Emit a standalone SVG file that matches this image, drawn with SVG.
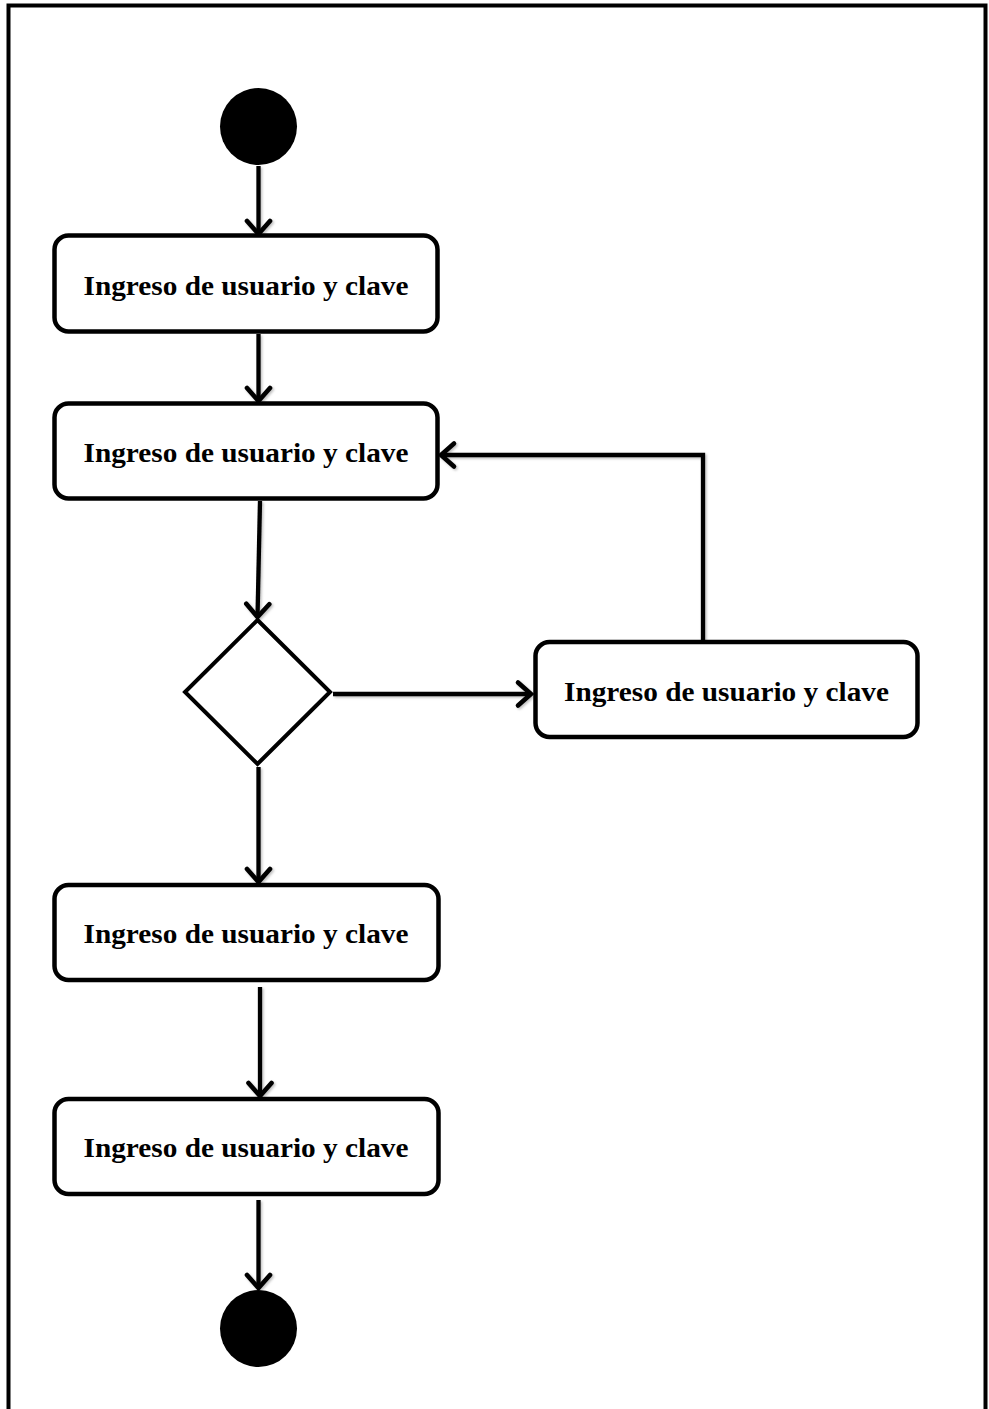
<svg xmlns="http://www.w3.org/2000/svg" width="989" height="1409" viewBox="0 0 989 1409">
  <style>
    .frame { fill: none; stroke: #000; stroke-width: 4; }
    .box { fill: #fff; stroke: #000; stroke-width: 4.5; }
    .dot { fill: #000; }
    .decision { fill: #fff; stroke: #000; stroke-width: 4; stroke-linejoin: miter; }
    .label { font-family: "Liberation Serif", "Times New Roman", serif; font-weight: bold; font-size: 28px; fill: #000; text-anchor: middle; }
    .flow { fill: none; stroke: #000; stroke-width: 4.3; marker-end: url(#open-arrow); }
  </style>
  <defs>
    <marker id="open-arrow" markerUnits="userSpaceOnUse" markerWidth="32" markerHeight="32" viewBox="-17 -16 22 32" refX="0" refY="0" orient="auto">
      <path d="M -13 -11.5 L 0 0 L -13 11.5" fill="none" stroke="#000" stroke-width="4.6" stroke-linecap="round" stroke-linejoin="miter"/>
    </marker>
    <filter id="soft" filterUnits="userSpaceOnUse" x="0" y="0" width="989" height="1409">
      <feDropShadow dx="1.5" dy="1.5" stdDeviation="1.2" flood-color="#000" flood-opacity="0.25"/>
    </filter>
  </defs>

  <rect class="frame" x="8.5" y="5.5" width="977" height="1412"/>

  <g id="connectors" filter="url(#soft)">
    <path class="flow" d="M 258.5 166 L 258.5 234"/>
    <path class="flow" d="M 258.5 334 L 258.5 401"/>
    <path class="flow" d="M 260 501 L 257.5 617"/>
    <path class="flow" d="M 333 694 L 531 694"/>
    <path class="flow" d="M 703 645 L 703 455 L 441 455"/>
    <path class="flow" d="M 258.5 767 L 258.5 882"/>
    <path class="flow" d="M 260 987 L 260 1096"/>
    <path class="flow" d="M 258.5 1200 L 258.5 1288"/>
  </g>

  <g id="start">
    <circle class="dot" cx="258.5" cy="126.5" r="38.5"/>
  </g>

  <g id="activity-1">
    <rect class="box" x="54.5" y="235.5" width="383" height="96" rx="14"/>
    <text class="label" x="246" y="295" textLength="325" lengthAdjust="spacingAndGlyphs">Ingreso de usuario y clave</text>
  </g>

  <g id="activity-2">
    <rect class="box" x="54.5" y="403.5" width="383" height="95" rx="14"/>
    <text class="label" x="246" y="462" textLength="325" lengthAdjust="spacingAndGlyphs">Ingreso de usuario y clave</text>
  </g>

  <g id="decision">
    <polygon class="decision" points="257.5,620 330,692 257.5,764 185,692"/>
  </g>

  <g id="activity-3">
    <rect class="box" x="535.5" y="642" width="382" height="95" rx="14"/>
    <text class="label" x="726.5" y="701" textLength="325" lengthAdjust="spacingAndGlyphs">Ingreso de usuario y clave</text>
  </g>

  <g id="activity-4">
    <rect class="box" x="54.5" y="885" width="384" height="95" rx="14"/>
    <text class="label" x="246" y="943" textLength="325" lengthAdjust="spacingAndGlyphs">Ingreso de usuario y clave</text>
  </g>

  <g id="activity-5">
    <rect class="box" x="54.5" y="1099" width="384" height="95" rx="14"/>
    <text class="label" x="246" y="1157" textLength="325" lengthAdjust="spacingAndGlyphs">Ingreso de usuario y clave</text>
  </g>

  <g id="end">
    <circle class="dot" cx="258.5" cy="1328.5" r="38.5"/>
  </g>
</svg>
